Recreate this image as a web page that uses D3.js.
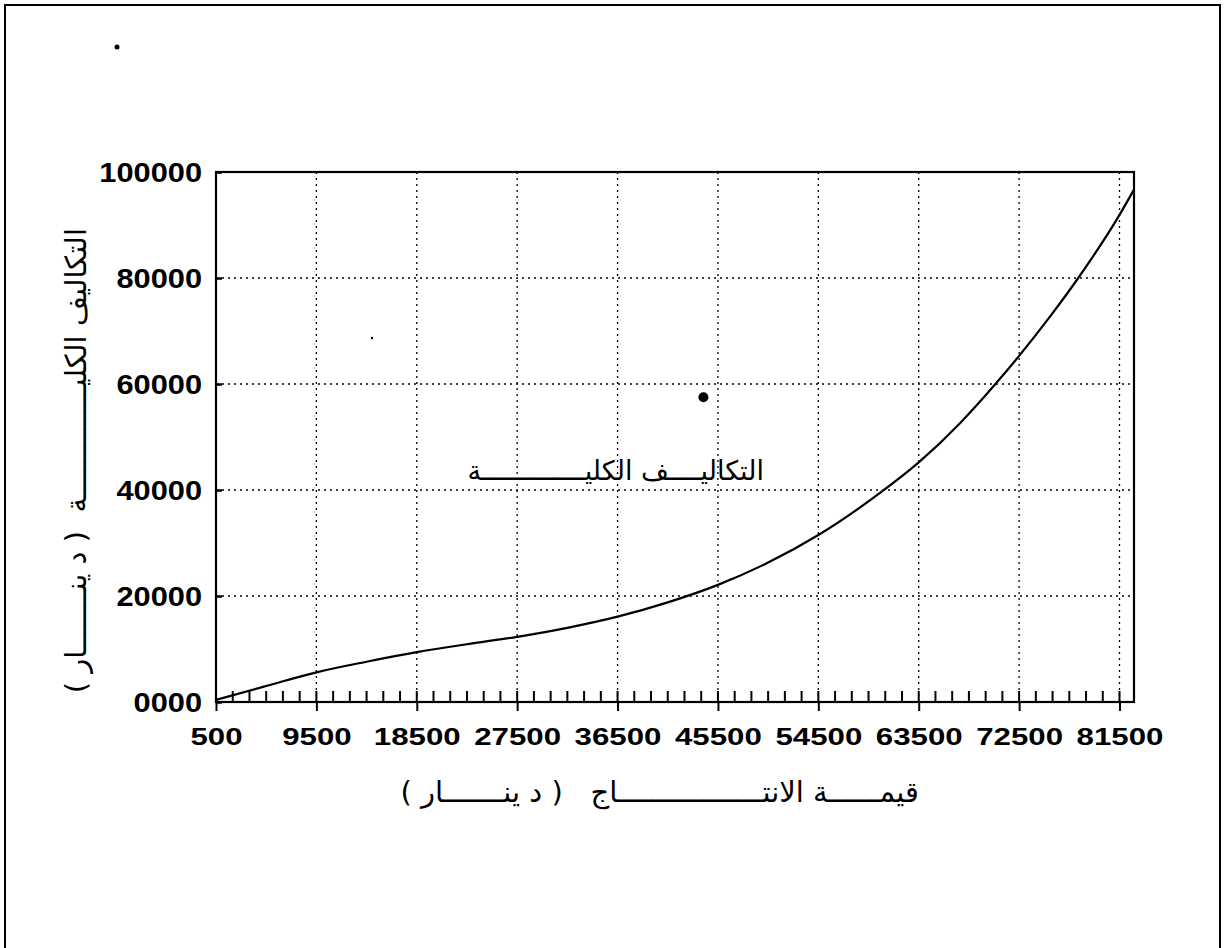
<!DOCTYPE html>
<html>
<head>
<meta charset="utf-8">
<script src="https://cdn.jsdelivr.net/npm/d3@7"></script>
<style>
  html, body { margin: 0; padding: 0; background: #fff; }
  svg { display: block; }
</style>
</head>
<body>
<svg id="chart" width="1225" height="948"></svg>
<script>
// ---- data ----
const outputValues = [500, 4800, 9500, 14000, 18500, 23000, 27500, 32000, 36500, 41000, 45500, 50000, 54500, 60000, 63500, 67200, 70300, 72500, 75300, 77800, 81500, 82800];
const totalCost    = [400, 2900, 5600, 7600, 9400, 10900, 12300, 14000, 16100, 18800, 22100, 26300, 31500, 39400, 45200, 52600, 59800, 65300, 72800, 80000, 91900, 96700];
const xTickValues = [500, 9500, 18500, 27500, 36500, 45500, 54500, 63500, 72500, 81500];
const yTickValues = [0, 20000, 40000, 60000, 80000, 100000];
const xTitle = "قيمــــــة الانتـــــــــــــــــاج   ( د ينـــــــار )";
const yTitle = "التكاليف الكليـــــــــــــة  ( د ينـــــــار )";
const seriesLabel = "التكاليــــف الكليـــــــــــــة";
const markerPoint = [44200, 57500];

const svg = d3.select("#chart");
const L = 216, R = 1134, T = 172, B = 702;

const x = d3.scaleLinear().domain([500, 82800]).range([L, R]);
const y = d3.scaleLinear().domain([0, 100000]).range([B, T]);

// outer frame
svg.append("rect").attr("x", 5).attr("y", 5).attr("width", 1215).attr("height", 980)
  .attr("fill", "none").attr("stroke", "#000").attr("stroke-width", 2);

// grid lines
const grid = svg.append("g").attr("stroke", "#000").attr("stroke-width", 1.3)
  .attr("stroke-dasharray", "2,4");
grid.selectAll("line.v").data(xTickValues.slice(1)).join("line")
  .attr("x1", d => x(d)).attr("x2", d => x(d)).attr("y1", T).attr("y2", B);
grid.selectAll("line.h").data(yTickValues.slice(1, -1)).join("line")
  .attr("x1", L).attr("x2", R).attr("y1", d => y(d)).attr("y2", d => y(d));

// minor ticks on x axis (inward)
const minor = d3.range(500, 82800, 1500);
svg.append("g").selectAll("line").data(minor).join("line")
  .attr("x1", d => x(d)).attr("x2", d => x(d)).attr("y1", B).attr("y2", B - 11)
  .attr("stroke", "#000").attr("stroke-width", 2);

// x axis
const xAxis = svg.append("g").attr("transform", `translate(0,${B})`)
  .call(d3.axisBottom(x).tickValues(xTickValues).tickSizeInner(9).tickSizeOuter(0).tickFormat(d3.format("d")));
xAxis.select(".domain").remove();
xAxis.selectAll(".tick line").attr("stroke-width", 2);
xAxis.selectAll(".tick text")
  .attr("y", 43).attr("dy", 0)
  .attr("transform", "scale(1.33,1)")
  .style("font-family", "'Liberation Sans', Arial, sans-serif")
  .style("font-weight", "bold").style("font-size", "23.5px").attr("fill", "#000");

// y axis
const yAxis = svg.append("g").attr("transform", `translate(${L},0)`)
  .call(d3.axisLeft(y).tickValues(yTickValues).tickSizeInner(-6).tickSizeOuter(0)
    .tickFormat(d => d === 0 ? "0000" : String(d)));
yAxis.select(".domain").remove();
yAxis.selectAll(".tick line").attr("stroke-width", 2.5);
const ySx = 1.14;
yAxis.selectAll(".tick text")
  .attr("x", -14 / ySx).attr("dy", "0.36em")
  .attr("transform", `scale(${ySx},1)`)
  .style("font-family", "'Liberation Sans', Arial, sans-serif")
  .style("font-weight", "bold").style("font-size", "27px").attr("fill", "#000");

// plot frame
svg.append("rect").attr("x", L).attr("y", T).attr("width", R - L).attr("height", B - T)
  .attr("fill", "none").attr("stroke", "#000").attr("stroke-width", 2.2);

// curve
const pts = outputValues.map((v, i) => [v, totalCost[i]]);
svg.append("path").datum(pts)
  .attr("d", d3.line().x(d => x(d[0])).y(d => y(d[1])).curve(d3.curveMonotoneX))
  .attr("fill", "none").attr("stroke", "#000").attr("stroke-width", 2.2);

// marker dot
svg.append("circle").attr("cx", x(markerPoint[0])).attr("cy", y(markerPoint[1])).attr("r", 5).attr("fill", "#000");

// series label
svg.append("text").attr("x", 764).attr("y", 480)
  .attr("text-anchor", "start").attr("direction", "rtl")
  .style("font-family", "'DejaVu Sans', sans-serif").style("font-size", "27px")
  .text(seriesLabel);

// x title
svg.append("text").attr("x", 919).attr("y", 802)
  .attr("text-anchor", "start").attr("direction", "rtl")
  .style("white-space", "pre")
  .style("font-family", "'DejaVu Sans', sans-serif").style("font-size", "29px")
  .text(xTitle);

// y title
svg.append("text").attr("transform", "translate(86,228) rotate(-90)")
  .attr("text-anchor", "start").attr("direction", "rtl")
  .style("white-space", "pre")
  .style("font-family", "'DejaVu Sans', sans-serif").style("font-size", "29px")
  .text(yTitle);

// small scan specks seen in the reference
const specks = [[117, 47, 2.5], [372, 338, 1.2]];
svg.append("g").selectAll("circle").data(specks).join("circle")
  .attr("cx", d => d[0]).attr("cy", d => d[1]).attr("r", d => d[2]).attr("fill", "#000");
</script>
</body>
</html>
